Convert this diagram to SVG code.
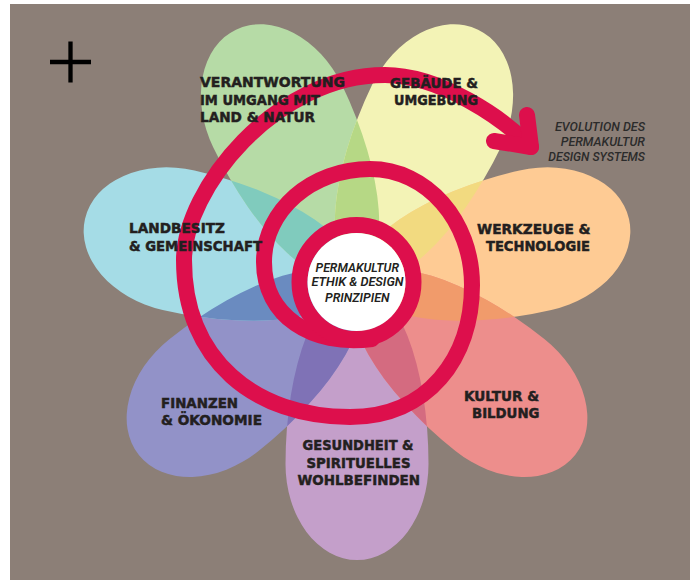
<svg xmlns="http://www.w3.org/2000/svg" xmlns:xlink="http://www.w3.org/1999/xlink" width="697" height="580" viewBox="0 0 697 580">
<style>
.lbl{font-family:"DejaVu Sans","Liberation Sans",sans-serif;font-weight:bold;font-size:14.5px;fill:#231f20;stroke:#231f20;stroke-width:0.5}
.cen{font-family:Roboto,"Liberation Sans",sans-serif;font-style:italic;font-weight:600;font-size:13px;fill:#231f20}
.evo{font-family:Roboto,"Liberation Sans",sans-serif;font-style:italic;font-weight:500;font-size:13px;fill:#2b2b2b}
.sp{fill:none;stroke:#dd0f4c;stroke-width:16;stroke-linecap:round;stroke-linejoin:round}
</style>
<defs>
<path id="egg" d="M 2 0 A 181 71.5 0 0 1 183 -71.5 A 96 71.5 0 0 1 279 0 A 96 71.5 0 0 1 183 71.5 A 181 71.5 0 0 1 2 0 Z"/>
<clipPath id="c-pink"><use xlink:href="#egg" href="#egg" transform="translate(357 281) rotate(90)"/></clipPath>
<clipPath id="c-violet"><use xlink:href="#egg" href="#egg" transform="translate(357 281) rotate(141.429)"/></clipPath>
<clipPath id="c-lb"><use xlink:href="#egg" href="#egg" transform="translate(357 281) rotate(192.857)"/></clipPath>
<clipPath id="c-green"><use xlink:href="#egg" href="#egg" transform="translate(357 281) rotate(244.286)"/></clipPath>
<clipPath id="c-yellow"><use xlink:href="#egg" href="#egg" transform="translate(357 281) rotate(295.714)"/></clipPath>
<clipPath id="c-orange"><use xlink:href="#egg" href="#egg" transform="translate(357 281) rotate(347.143)"/></clipPath>
</defs>
<rect x="10" y="4" width="680" height="576" fill="#8c7f77"/>
<path d="M50 62 H91 M70.5 41.5 V82.5" stroke="#000" stroke-width="4.3" fill="none"/>

<g id="petal-gesundheit"><use href="#egg" transform="translate(357 281) rotate(90)" fill="#c49fca"/></g>
<g id="petal-finanzen"><use href="#egg" transform="translate(357 281) rotate(141.429)" fill="#9292c8"/></g>
<g id="petal-landbesitz"><use href="#egg" transform="translate(357 281) rotate(192.857)" fill="#a5dce6"/></g>
<g id="petal-verantwortung"><use href="#egg" transform="translate(357 281) rotate(244.286)" fill="#b6dba6"/></g>
<g id="petal-gebaeude"><use href="#egg" transform="translate(357 281) rotate(295.714)" fill="#f3f3b6"/></g>
<g id="petal-werkzeuge"><use href="#egg" transform="translate(357 281) rotate(347.143)" fill="#fecb94"/></g>
<g id="petal-kultur"><use href="#egg" transform="translate(357 281) rotate(38.571)" fill="#ed8e8c"/></g>

<g id="overlaps">
<g clip-path="url(#c-pink)"><use href="#egg" transform="translate(357 281) rotate(141.429)" fill="#7f72b6"/></g>
<g clip-path="url(#c-violet)"><use href="#egg" transform="translate(357 281) rotate(192.857)" fill="#6a8bc0"/></g>
<g clip-path="url(#c-lb)"><use href="#egg" transform="translate(357 281) rotate(244.286)" fill="#80cbbd"/></g>
<g clip-path="url(#c-green)"><use href="#egg" transform="translate(357 281) rotate(295.714)" fill="#b6d885"/></g>
<g clip-path="url(#c-yellow)"><use href="#egg" transform="translate(357 281) rotate(347.143)" fill="#f2da80"/></g>
<g clip-path="url(#c-orange)"><use href="#egg" transform="translate(357 281) rotate(38.571)" fill="#f19b6b"/></g>
<g clip-path="url(#c-pink)"><use href="#egg" transform="translate(357 281) rotate(38.571)" fill="#d46b80"/></g>
</g>

<g id="connectors">
<path class="sp" d="M372 339 C312 347 264 316 264 262 C264 210 312 169 370 169 C427 169 472 221 472 285 C472 358 428 417 350 417 C255 417 184 360 184 260 C184 190 275 75 385 75 C440 75 503 118 531 147"/>
<polyline class="sp" points="527,115 531,147 494,141"/>
</g>

<g id="label-verantwortung">
<text class="lbl" x="200" y="87" textLength="145" lengthAdjust="spacingAndGlyphs">VERANTWORTUNG</text>
<text class="lbl" x="200" y="104.5" textLength="120" lengthAdjust="spacingAndGlyphs">IM UMGANG MIT</text>
<text class="lbl" x="200" y="122" textLength="115" lengthAdjust="spacingAndGlyphs">LAND &amp; NATUR</text>
</g>
<g id="label-gebaeude">
<text class="lbl" x="390" y="88" textLength="88" lengthAdjust="spacingAndGlyphs">GEBÄUDE &amp;</text>
<text class="lbl" x="394" y="105" textLength="84" lengthAdjust="spacingAndGlyphs">UMGEBUNG</text>
</g>
<g id="label-landbesitz">
<text class="lbl" x="129" y="233" textLength="96" lengthAdjust="spacingAndGlyphs">LANDBESITZ</text>
<text class="lbl" x="129" y="250.5" textLength="133" lengthAdjust="spacingAndGlyphs">&amp; GEMEINSCHAFT</text>
</g>
<g id="label-werkzeuge">
<text class="lbl" x="477" y="233.5" textLength="113.5" lengthAdjust="spacingAndGlyphs">WERKZEUGE &amp;</text>
<text class="lbl" x="486" y="251" textLength="104" lengthAdjust="spacingAndGlyphs">TECHNOLOGIE</text>
</g>
<g id="label-kultur">
<text class="lbl" x="464" y="400.5" textLength="75" lengthAdjust="spacingAndGlyphs">KULTUR &amp;</text>
<text class="lbl" x="472" y="417.5" textLength="67.5" lengthAdjust="spacingAndGlyphs">BILDUNG</text>
</g>
<g id="label-finanzen">
<text class="lbl" x="161" y="407.5" textLength="77" lengthAdjust="spacingAndGlyphs">FINANZEN</text>
<text class="lbl" x="161" y="424.5" textLength="101" lengthAdjust="spacingAndGlyphs">&amp; ÖKONOMIE</text>
</g>
<g id="label-gesundheit">
<text class="lbl" x="302.5" y="449.5" textLength="111" lengthAdjust="spacingAndGlyphs">GESUNDHEIT &amp;</text>
<text class="lbl" x="306.5" y="467.5" textLength="104" lengthAdjust="spacingAndGlyphs">SPIRITUELLES</text>
<text class="lbl" x="297.5" y="484.5" textLength="122.5" lengthAdjust="spacingAndGlyphs">WOHLBEFINDEN</text>
</g>

<g id="center">
<circle cx="356.5" cy="282" r="57" fill="none" stroke="#dd0f4c" stroke-width="16"/>
<circle cx="356.5" cy="282" r="49" fill="#ffffff"/>
<text class="cen" x="315.5" y="271.5" textLength="83.5" lengthAdjust="spacingAndGlyphs">PERMAKULTUR</text>
<text class="cen" x="311.5" y="286" textLength="92" lengthAdjust="spacingAndGlyphs">ETHIK &amp; DESIGN</text>
<text class="cen" x="325" y="301.5" textLength="64.5" lengthAdjust="spacingAndGlyphs">PRINZIPIEN</text>
</g>

<g id="label-evolution">
<text class="evo" x="555" y="130.7" textLength="90" lengthAdjust="spacingAndGlyphs">EVOLUTION DES</text>
<text class="evo" x="560.7" y="145.7" textLength="84.3" lengthAdjust="spacingAndGlyphs">PERMAKULTUR</text>
<text class="evo" x="548.3" y="160.7" textLength="96.7" lengthAdjust="spacingAndGlyphs">DESIGN SYSTEMS</text>
</g>
</svg>
